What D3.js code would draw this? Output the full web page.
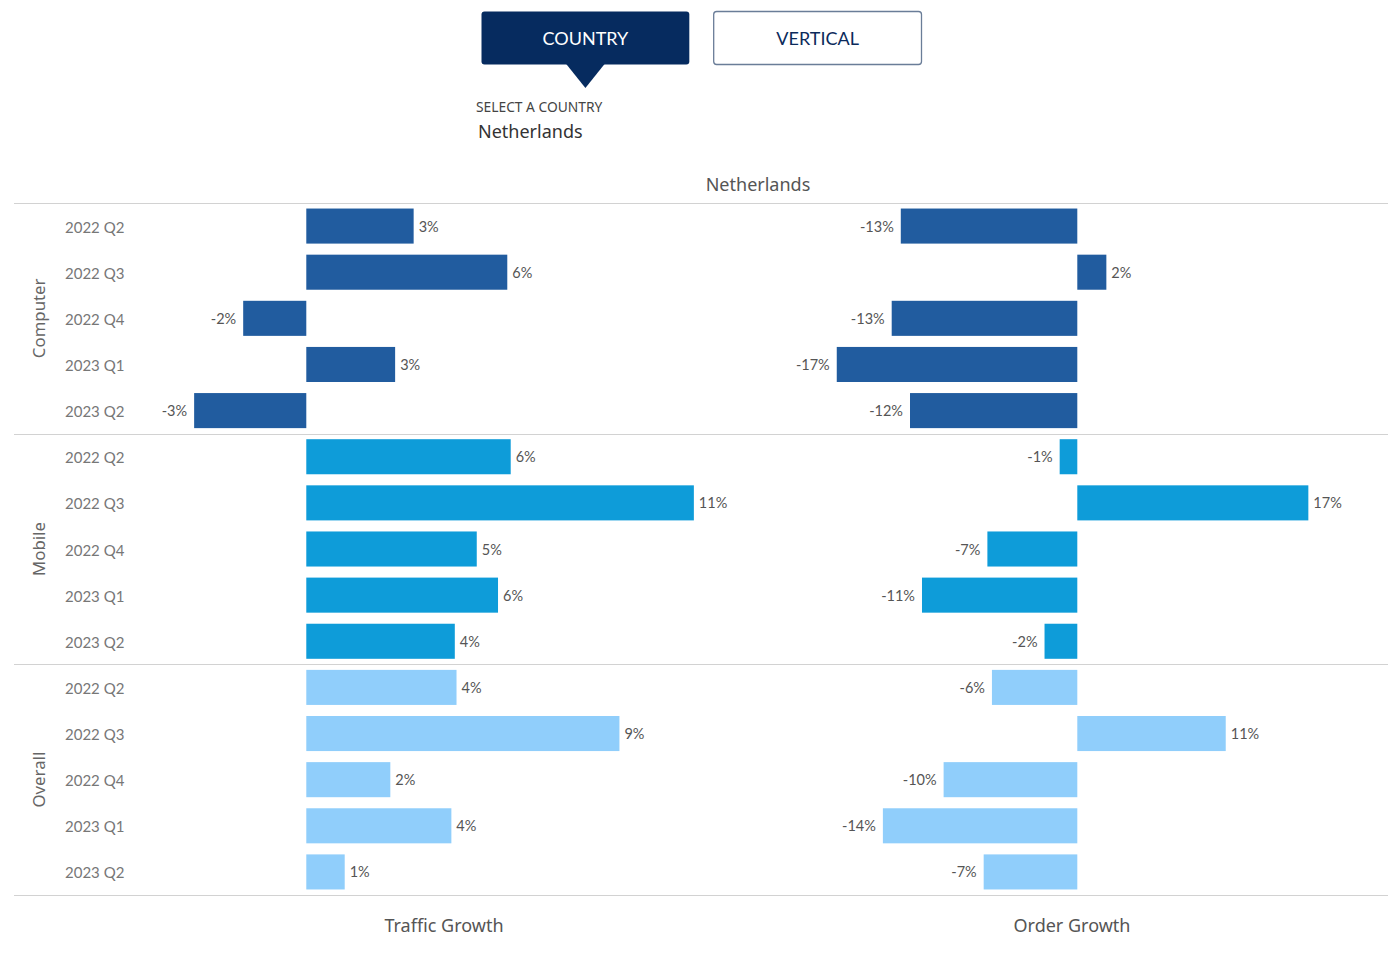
<!DOCTYPE html>
<html>
<head>
<meta charset="utf-8">
<script src="https://cdn.jsdelivr.net/npm/d3@7/dist/d3.min.js"></script>
<style>
  html, body { margin: 0; padding: 0; background: #ffffff; }
  svg { display: block; }
</style>
</head>
<body>
<svg id="chart" width="1400" height="960"></svg>
<script>
// ---------- DATA ----------
const country = "Netherlands";
const segments = ["Computer", "Mobile", "Overall"];
const quarters = ["2022 Q2", "2022 Q3", "2022 Q4", "2023 Q1", "2023 Q2"];
const measures = ["Traffic Growth", "Order Growth"];
const trafficComputer = [0.0313, 0.0586, -0.0184, 0.0259, -0.0327];
const trafficMobile   = [0.0596, 0.1130, 0.0497, 0.0559, 0.0433];
const trafficOverall  = [0.0438, 0.0913, 0.0245, 0.0423, 0.0112];
const orderComputer   = [-0.1282, 0.0211, -0.1348, -0.1747, -0.1215];
const orderMobile     = [-0.0128, 0.1678, -0.0653, -0.1128, -0.0238];
const orderOverall    = [-0.0620, 0.1078, -0.0971, -0.1412, -0.0680];
const segmentColors = ["#215c9f", "#0e9cd9", "#90cefb"];
const buttons = ["COUNTRY", "VERTICAL"];

// ---------- BUILD ----------
const traffic = [trafficComputer, trafficMobile, trafficOverall];
const order = [orderComputer, orderMobile, orderOverall];
const rows = [];
segments.forEach((s, si) => quarters.forEach((q, qi) => {
  rows.push({ key: s + "|" + q, seg: s, si, q, traffic: traffic[si][qi], order: order[si][qi] });
}));

const svg = d3.select("#chart");
const fontMain = "'Noto Sans', 'Open Sans', sans-serif";
const fontData = "Lato, 'Noto Sans', sans-serif";

// ---------- Buttons ----------
const btnScale = d3.scaleBand().domain(buttons).range([481.5, 921.5]).paddingInner(0.105);
const btn = svg.append("g");
buttons.forEach((b, i) => {
  const x0 = btnScale(b), w = btnScale.bandwidth();
  if (i === 0) {
    btn.append("rect").attr("x", x0).attr("y", 11.5).attr("width", w).attr("height", 53)
      .attr("rx", 3).attr("fill", "#062b5f");
    const cx = x0 + w / 2;
    btn.append("path").attr("d", `M${cx - 20},63 L${cx + 20},63 L${cx},88 Z`).attr("fill", "#062b5f");
    btn.append("text").attr("x", cx).attr("y", 45).attr("text-anchor", "middle")
      .attr("font-family", fontData).attr("font-size", 18).attr("fill", "#ffffff").text(b);
  } else {
    btn.append("rect").attr("x", x0).attr("y", 11.5).attr("width", w).attr("height", 53)
      .attr("rx", 3).attr("fill", "#ffffff").attr("stroke", "#6a7d98").attr("stroke-width", 1.3);
    btn.append("text").attr("x", x0 + w / 2).attr("y", 45).attr("text-anchor", "middle")
      .attr("font-family", fontData).attr("font-size", 18).attr("fill", "#0b2a5b").text(b);
  }
});

svg.append("text").attr("x", 476).attr("y", 112).attr("font-family", fontMain)
  .attr("font-size", 13.8).attr("fill", "#444").text("SELECT A COUNTRY");
svg.append("text").attr("x", 478).attr("y", 138).attr("font-family", fontMain)
  .attr("font-size", 18).attr("fill", "#333").text(country);

// ---------- Scales ----------
const y = d3.scaleBand().domain(rows.map(d => d.key)).range([203, 895])
  .paddingInner(0.24).paddingOuter(0.12);
const xT = d3.scaleLinear().domain([-0.0514, 0.1317]).range([130, 758]);
const xO = d3.scaleLinear().domain([-0.2319, 0.2242]).range([758, 1386]);
const fmt = d3.format(".0%");
const pct = v => fmt(v).replace("\u2212", "-");

// Header
svg.append("text").attr("x", (130 + 1386) / 2).attr("y", 191).attr("text-anchor", "middle")
  .attr("font-family", fontMain).attr("font-size", 18).attr("fill", "#555").text(country);

// Separator lines
const groupEdges = [203].concat(segments.map((s, si) => {
  const last = rows.filter(r => r.si === si).slice(-1)[0];
  return y(last.key) + y.bandwidth() + y.step() * 0.12;
}));
svg.append("g").selectAll("line").data(groupEdges).join("line")
  .attr("x1", 14).attr("x2", 1388)
  .attr("y1", d => Math.round(d) + 0.5).attr("y2", d => Math.round(d) + 0.5)
  .attr("stroke", "#d2d2d2").attr("stroke-width", 1.2);

// Group labels
segments.forEach((s, si) => {
  const cy = (groupEdges[si] + groupEdges[si + 1]) / 2;
  svg.append("text").attr("transform", `translate(45,${cy}) rotate(-90)`)
    .attr("text-anchor", "middle").attr("font-family", fontMain).attr("font-size", 16.8)
    .attr("fill", "#666").text(s);
});

// Row labels
svg.append("g").selectAll("text").data(rows).join("text")
  .attr("x", 65).attr("y", d => y(d.key) + y.bandwidth() / 2 + 6.5)
  .attr("font-family", fontData).attr("font-size", 15).attr("fill", "#777").text(d => d.q);

// Bars
function drawPanel(x, field) {
  const g = svg.append("g");
  g.selectAll("rect").data(rows).join("rect")
    .attr("x", d => Math.min(x(0), x(d[field])))
    .attr("width", d => Math.abs(x(d[field]) - x(0)))
    .attr("y", d => y(d.key)).attr("height", y.bandwidth())
    .attr("fill", d => segmentColors[d.si]);
  g.selectAll("text").data(rows).join("text")
    .attr("x", d => d[field] >= 0 ? x(d[field]) + 5 : x(d[field]) - 7)
    .attr("y", d => y(d.key) + y.bandwidth() / 2 + 5.5)
    .attr("text-anchor", d => d[field] >= 0 ? "start" : "end")
    .attr("font-family", fontData).attr("font-size", 14.5).attr("fill", "#555")
    .text(d => pct(d[field]));
}
drawPanel(xT, "traffic");
drawPanel(xO, "order");

// Axis titles
svg.append("text").attr("x", (xT.range()[0] + xT.range()[1]) / 2).attr("y", 932)
  .attr("text-anchor", "middle").attr("font-family", fontMain).attr("font-size", 18)
  .attr("fill", "#555").text(measures[0]);
svg.append("text").attr("x", (xO.range()[0] + xO.range()[1]) / 2).attr("y", 932)
  .attr("text-anchor", "middle").attr("font-family", fontMain).attr("font-size", 18)
  .attr("fill", "#555").text(measures[1]);
</script>
</body>
</html>
